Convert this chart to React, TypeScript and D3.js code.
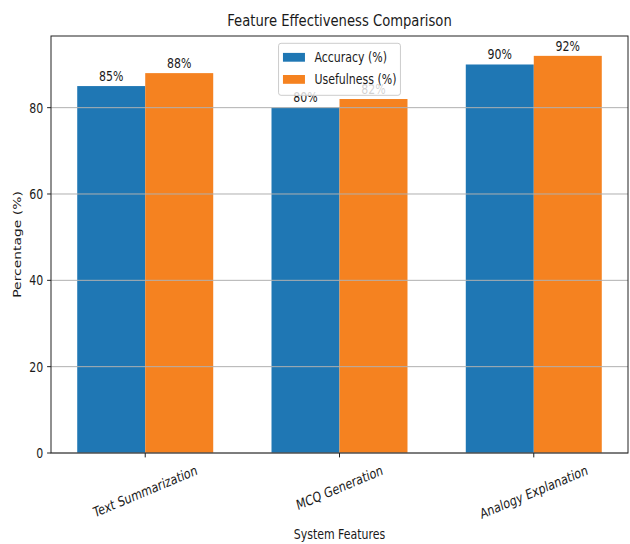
import React, { useEffect, useRef } from 'react';
import * as d3 from 'd3';

const categories = ['Text Summarization', 'MCQ Generation', 'Analogy Explanation'];
const seriesNames = ['Accuracy (%)', 'Usefulness (%)'];
const accuracy = [85, 80, 90];
const usefulness = [88, 82, 92];
const yTicks = [0, 20, 40, 60, 80];

const W = 630;
const H = 544;
const SX = 0.79; // horizontal squeeze of the source image text
const FS = 13.9;
const FONT = 'DejaVu Sans, sans-serif';
const colors = ['#1f77b4', '#f58220'];

export default function App() {
  const svgRef = useRef<SVGSVGElement | null>(null);

  useEffect(() => {
    if (!svgRef.current) return;
    const svg = d3.select(svgRef.current);
    svg.selectAll('*').remove();

    const margin = { top: 36, right: 2, bottom: 91, left: 51 };
    const x0 = d3.scaleBand().domain(categories).range([margin.left, W - margin.right]).paddingInner(0.3).paddingOuter(0.135);
    const x1 = d3.scaleBand().domain(seriesNames).range([0, x0.bandwidth()]);
    const y = d3.scaleLinear().domain([0, 96.6]).range([H - margin.bottom, margin.top]);
    const color = d3.scaleOrdinal<string, string>().domain(seriesNames).range(colors);

    const rows = categories.map((c, i) => ({ cat: c, values: [accuracy[i], usefulness[i]] }));

    // helper for squeezed text
    const addText = (g: any, px: number, py: number, str: string, size: number, anchor: string, rot = 0) =>
      g.append('text')
        .attr('transform', `translate(${px},${py}) scale(${SX},1)${rot ? ` rotate(${rot})` : ''}`)
        .attr('font-family', FONT)
        .attr('font-size', size)
        .attr('text-anchor', anchor)
        .attr('fill', '#1a1a1a')
        .text(str);

    // bars
    const groups = svg.append('g').selectAll('g').data(rows).join('g')
      .attr('transform', d => `translate(${x0(d.cat)},0)`);
    groups.selectAll('rect')
      .data(d => d.values.map((v, j) => ({ name: seriesNames[j], v })))
      .join('rect')
      .attr('x', d => x1(d.name) ?? 0)
      .attr('y', d => y(d.v))
      .attr('width', x1.bandwidth())
      .attr('height', d => y(0) - y(d.v))
      .attr('fill', d => color(d.name));

    // grid over bars
    svg.append('g').selectAll('line').data(yTicks).join('line')
      .attr('x1', margin.left).attr('x2', W - margin.right)
      .attr('y1', d => y(d)).attr('y2', d => y(d))
      .attr('stroke', '#b0b0b0').attr('stroke-width', 1);

    // value labels
    rows.forEach(r => {
      r.values.forEach((v, j) => {
        const cx = (x0(r.cat) ?? 0) + (x1(seriesNames[j]) ?? 0) + x1.bandwidth() / 2;
        addText(svg, cx, y(v) - 5.3, `${v}%`, FS, 'middle');
      });
    });

    // frame
    svg.append('rect')
      .attr('x', margin.left).attr('y', margin.top)
      .attr('width', W - margin.right - margin.left).attr('height', y(0) - margin.top)
      .attr('fill', 'none').attr('stroke', '#222').attr('stroke-width', 1);

    // y axis ticks
    const yAxis = svg.append('g');
    yTicks.forEach(t => {
      yAxis.append('line').attr('x1', margin.left - 3.9).attr('x2', margin.left)
        .attr('y1', y(t)).attr('y2', y(t)).attr('stroke', '#222').attr('stroke-width', 1);
      addText(yAxis, margin.left - 7.8, y(t) + FS * 0.36, String(t), FS, 'end');
    });

    // x axis ticks and rotated labels
    const xAxis = svg.append('g');
    const ang = 18.3;
    categories.forEach(c => {
      const cx = (x0(c) ?? 0) + x0.bandwidth() / 2;
      xAxis.append('line').attr('x1', cx).attr('x2', cx)
        .attr('y1', y(0)).attr('y2', y(0) + 4.4).attr('stroke', '#222').attr('stroke-width', 1);
      const t = addText(xAxis, cx, 0, c, FS, 'middle', -ang).attr('dominant-baseline', 'central');
      const L = (t.node() as SVGTextElement).getComputedTextLength();
      const rad = (ang * Math.PI) / 180;
      const ext = L * Math.sin(rad) + FS * 1.16 * Math.cos(rad);
      const top = y(0) + 8.8;
      t.attr('transform', `translate(${cx},${top + ext / 2}) scale(${SX},1) rotate(${-ang})`);
    });

    // axis labels and title
    addText(svg, (margin.left + W - margin.right) / 2, 539, 'System Features', FS, 'middle');
    addText(svg, 21, (margin.top + y(0)) / 2, 'Percentage (%)', FS, 'middle', -90);
    addText(svg, (margin.left + W - margin.right) / 2, 25.5, 'Feature Effectiveness Comparison', 16.67, 'middle');

    // legend (upper center)
    const lg = svg.append('g');
    const box = lg.append('rect');
    const textW: number[] = [];
    const rowY = [57.2, 79.3];
    seriesNames.forEach((s, i) => {
      lg.append('rect').attr('x', 0).attr('y', rowY[i] - 4.3).attr('width', 22).attr('height', 8.8)
        .attr('fill', color(s));
      const t = addText(lg, 31.5, rowY[i] + FS * 0.36, s, FS, 'start');
      textW.push((t.node() as SVGTextElement).getComputedTextLength() * SX);
    });
    const innerW = 31.5 + d3.max(textW)! + 4;
    const boxW = innerW + 4.4;
    const left = (margin.left + W - margin.right) / 2 - boxW / 2;
    lg.attr('transform', `translate(${left + 4.4},0)`);
    box.attr('x', -4.4).attr('y', margin.top + 7.3).attr('width', boxW).attr('height', 52)
      .attr('rx', 2.5).attr('fill', 'white').attr('fill-opacity', 0.8)
      .attr('stroke', '#cccccc').attr('stroke-width', 1);
  }, []);

  return (
    <svg ref={svgRef} width={W} height={H}
      style={{ position: 'fixed', left: 0, top: 0, background: 'white' }} />
  );
}
